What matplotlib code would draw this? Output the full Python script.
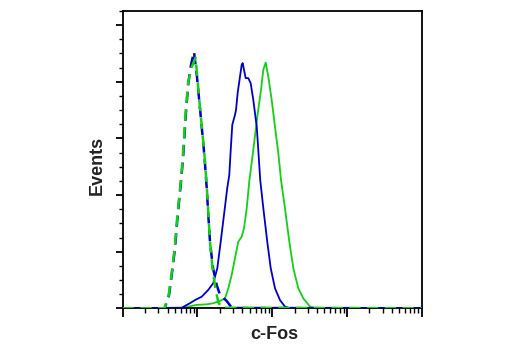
import numpy as np
import matplotlib
matplotlib.use("Agg")
import matplotlib.pyplot as plt
from matplotlib.ticker import LogLocator, MultipleLocator, NullFormatter

# ---- data (log10 of intensity above 10^2, events in % of max) ----
ctrl_blue_log = [0.00, 0.55, 0.566, 0.589, 0.620, 0.656, 0.700, 0.736, 0.780, 0.807, 0.827, 0.847,
                 0.878, 0.914, 0.954, 0.994, 1.027, 1.061, 1.094, 1.124, 1.145, 1.168,
                 1.208, 1.258, 1.302, 1.391, 1.462, 4.00]
ctrl_blue_cnt = [0.0, 0.0, 0.3, 2.2, 4.7, 11.8, 21.3, 33.0, 44.6, 53.1, 61.2, 69.4,
                 79.6, 86.0, 90.6, 81.7, 72.5, 63.0, 53.5, 42.5, 33.0, 23.4,
                 14.2, 8.2, 4.7, 2.6, 0.1, 0.0]

ctrl_green_log = [0.00, 0.55, 0.563, 0.585, 0.615, 0.652, 0.696, 0.732, 0.776, 0.803, 0.823, 0.843,
                  0.874, 0.920, 0.975, 1.000, 1.030, 1.063, 1.096, 1.126, 1.147, 1.168,
                  1.200, 1.240, 1.280, 1.330, 4.00]
ctrl_green_cnt = [0.0, 0.0, 0.3, 2.2, 4.7, 11.8, 21.3, 33.0, 44.6, 53.1, 61.2, 69.4,
                  79.6, 85.0, 88.5, 81.0, 72.0, 63.0, 53.5, 42.5, 33.0, 23.4,
                  14.5, 7.0, 2.0, 0.2, 0.0]

treat_blue_log = [0.00, 0.789, 0.900, 0.967, 1.057, 1.145, 1.212, 1.266, 1.311, 1.355, 1.399, 1.426,
                  1.445, 1.466, 1.502, 1.516, 1.538, 1.569, 1.592, 1.605, 1.645, 1.680,
                  1.712, 1.747, 1.793, 1.814, 1.840, 1.881, 1.934, 1.980, 2.037, 2.104,
                  2.171, 2.238, 4.00]
treat_blue_cnt = [0.0, 0.2, 1.8, 2.9, 4.1, 6.5, 8.9, 14.2, 23.5, 33.0, 42.5, 47.1,
                  55.9, 64.8, 68.3, 70.1, 76.1, 81.8, 86.0, 86.6, 81.3, 81.3,
                  79.5, 73.6, 64.2, 55.9, 45.3, 35.4, 23.5, 14.2, 7.1, 2.9,
                  0.6, 0.0, 0.0]

treat_green_log = [0.00, 0.767, 0.990, 1.124, 1.212, 1.302, 1.369, 1.413, 1.458, 1.502, 1.546, 1.592,
                   1.623, 1.659, 1.694, 1.747, 1.801, 1.850, 1.881, 1.913, 1.948, 1.993,
                   2.037, 2.082, 2.118, 2.171, 2.229, 2.283, 2.349, 2.416, 2.506, 2.586, 4.00]
treat_green_cnt = [0.0, 0.0, 1.2, 1.4, 1.8, 2.6, 3.5, 7.1, 11.8, 17.7, 23.5, 25.3,
                   28.3, 35.3, 45.0, 55.9, 67.7, 77.1, 84.2, 86.8, 81.8, 73.6,
                   64.2, 54.8, 45.3, 35.3, 23.5, 14.1, 7.1, 3.5, 0.6, 0.0, 0.0]

x_label = "c-Fos"
y_label = "Events"

BLUE = "#0000cc"
GREEN = "#12d012"

fig = plt.figure(figsize=(5.2, 3.5), dpi=100)
ax = fig.add_axes([122.7 / 520, (350 - 308.3) / 350, 299 / 520, 297.3 / 350])

def to_x(logs):
    return 10 ** (2 + np.asarray(logs))

ax.plot(to_x(treat_green_log), treat_green_cnt, color=GREEN, lw=1.3, zorder=2)
ax.plot(to_x(treat_blue_log), treat_blue_cnt, color=BLUE, lw=1.3, zorder=3)
ax.plot(to_x(ctrl_blue_log), ctrl_blue_cnt, color=BLUE, lw=1.8, ls=(0, (4.5, 2.6)), zorder=4)
ax.plot(to_x(ctrl_green_log), ctrl_green_cnt, color=GREEN, lw=1.8, ls=(0, (4.5, 2.6)), zorder=5)

ax.set_xscale("log")
ax.set_xlim(1e2, 1e6)
ax.set_ylim(0, 105)

ax.xaxis.set_major_locator(LogLocator(base=10, numticks=10))
ax.xaxis.set_minor_locator(LogLocator(base=10, subs=np.arange(2, 10), numticks=20))
ax.xaxis.set_major_formatter(NullFormatter())
ax.xaxis.set_minor_formatter(NullFormatter())
ax.yaxis.set_major_locator(MultipleLocator(20))
ax.yaxis.set_minor_locator(MultipleLocator(5))
ax.yaxis.set_major_formatter(NullFormatter())

ax.tick_params(axis="x", which="major", direction="out", length=6.5, width=1.3)
ax.tick_params(axis="x", which="minor", direction="out", length=3.5, width=1.0)
ax.tick_params(axis="y", which="major", direction="out", length=5, width=1.3)
ax.tick_params(axis="y", which="minor", direction="out", length=3, width=1.0)

for sp in ax.spines.values():
    sp.set_linewidth(1.3)
    sp.set_color("black")

lbl_font = dict(family=["Liberation Sans Narrow", "Liberation Sans", "DejaVu Sans"],
                fontweight="bold", fontsize=13, color="#222222")
fig.text(274 / 520, 1 - 334.5 / 350, x_label, ha="center", va="center", **lbl_font)
fig.text(97 / 520, 1 - 165 / 350, y_label, ha="center", va="center", rotation=90, **lbl_font)

fig.savefig("out.png", dpi=100)
